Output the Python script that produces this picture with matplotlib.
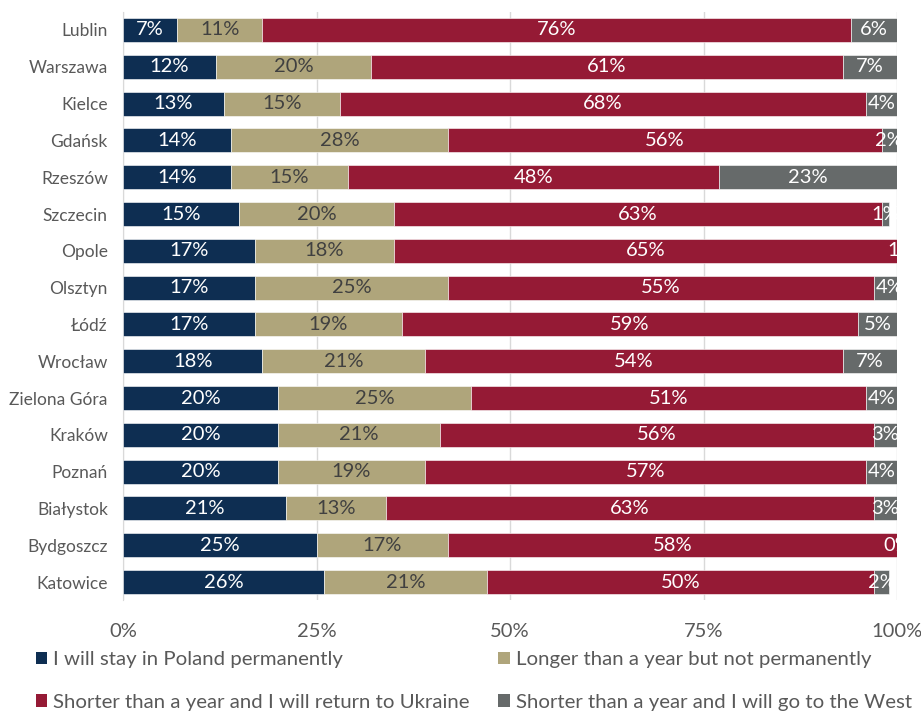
import matplotlib.pyplot as plt
from matplotlib.patches import Patch

plt.rcParams['font.family'] = ['Lato', 'DejaVu Sans']

cities = ["Lublin", "Warszawa", "Kielce", "Gdańsk", "Rzeszów", "Szczecin", "Opole",
          "Olsztyn", "Łódź", "Wrocław", "Zielona Góra", "Kraków", "Poznań",
          "Białystok", "Bydgoszcz", "Katowice"]
stay = [7, 12, 13, 14, 14, 15, 17, 17, 17, 18, 20, 20, 20, 21, 25, 26]
longer = [11, 20, 15, 28, 15, 20, 18, 25, 19, 21, 25, 21, 19, 13, 17, 21]
go_home = [76, 61, 68, 56, 48, 63, 65, 55, 59, 54, 51, 56, 57, 63, 58, 50]
go_west = [6, 7, 4, 2, 23, 1, 1, 4, 5, 7, 4, 3, 4, 3, 0, 2]

series = [
    ("I will stay in Poland permanently", stay, "#0E2E52", "white"),
    ("Longer than a year but not permanently", longer, "#AFA57B", "#404040"),
    ("Shorter than a year and I will return to Ukraine", go_home, "#951A35", "white"),
    ("Shorter than a year and I will go to the West", go_west, "#666A6A", "white"),
]

fig = plt.figure(figsize=(9.21, 7.11), dpi=100)
ax = fig.add_axes([0.1336, 0.1555, 0.8404, 0.8282])

y = list(range(len(cities)))
left = [0] * len(cities)
for name, vals, color, tcolor in series:
    ax.barh(y, vals, left=left, height=0.65, color=color, edgecolor="white",
            linewidth=0.4, zorder=3)
    for i, v in enumerate(vals):
        ax.text(left[i] + v / 2, i, f"{v}%", ha="center", va="center",
                color=tcolor, fontsize=14.5, clip_on=True, zorder=4)
    left = [a + b for a, b in zip(left, vals)]

ax.set_xlim(0, 100)
ax.set_ylim(len(cities) - 0.5, -0.5)
ax.set_yticks(y)
ax.set_yticklabels(cities)
ax.set_xticks([0, 25, 50, 75, 100])
ax.set_xticklabels(["0%", "25%", "50%", "75%", "100%"])
ax.tick_params(axis="both", length=0, colors="#595959")
ax.tick_params(axis="x", labelsize=14.5, pad=16)
ax.tick_params(axis="y", labelsize=12.5, pad=11)
ax.grid(axis="x", color="#D9D9D9", linewidth=1, zorder=0)
for s in ["top", "right", "bottom"]:
    ax.spines[s].set_visible(False)
ax.spines["left"].set_color("#D9D9D9")

# legend order row by row: stay, longer / return, west
order = [0, 2, 1, 3]
handles = [Patch(facecolor=series[k][2]) for k in order]
labels = [series[k][0] for k in order]
fig.legend(handles, labels, ncol=2, loc="upper left",
           bbox_to_anchor=(0.039, 0.084), frameon=False, fontsize=14.7,
           labelcolor="#595959", handlelength=0.55, handleheight=0.55,
           handletextpad=0.3, labelspacing=1.25, columnspacing=1.4,
           borderaxespad=0, borderpad=0)

fig.savefig("out.png", dpi=100)
